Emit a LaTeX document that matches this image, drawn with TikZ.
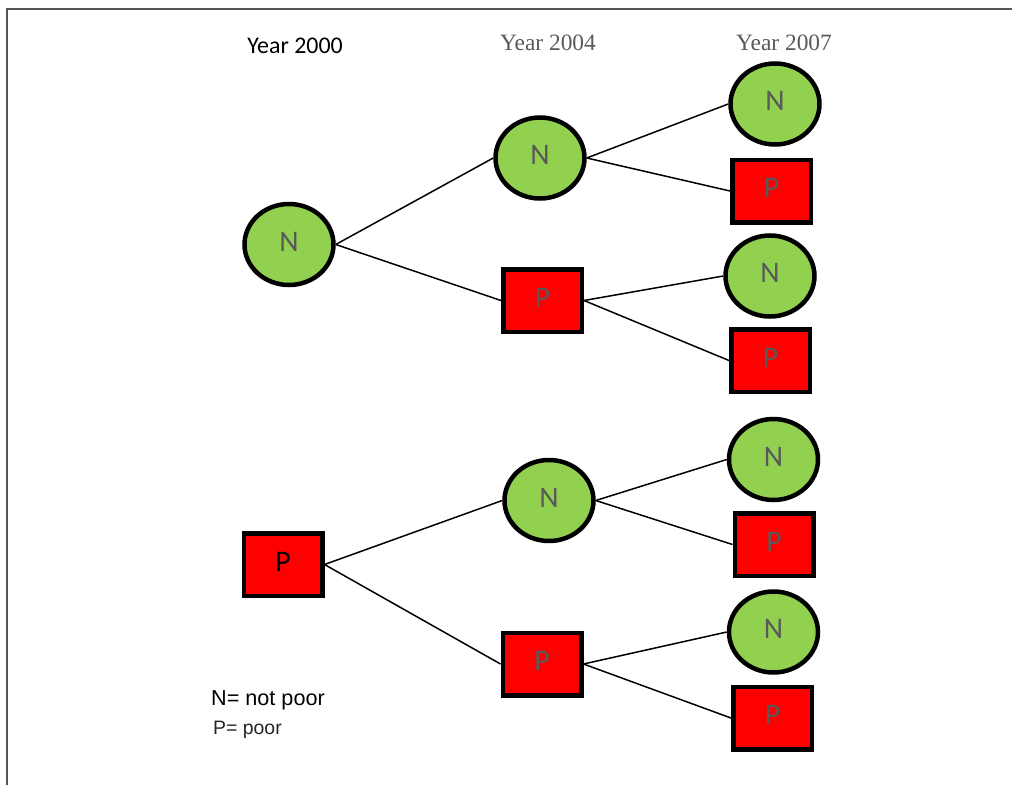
\documentclass[tikz,border=0pt]{standalone}
\usepackage{fontspec}
\setmainfont{Carlito}
\newfontfamily\serifyear{Liberation Serif}
\newfontfamily\legendfont{Liberation Sans}
\usetikzlibrary{shapes.geometric}
\definecolor{ngreen}{HTML}{92D050}
\definecolor{pred}{HTML}{FF0000}
\definecolor{labgray}{HTML}{595959}
\definecolor{framegray}{HTML}{555555}
\tikzset{
  nnode/.style={ellipse, draw=black, line width=4.5bp, fill=ngreen, minimum width=89bp, minimum height=81bp, inner sep=0pt, text=labgray, text depth=6bp, font=\fontsize{30}{30}\selectfont},
  pnode/.style={rectangle, draw=black, line width=4.5bp, fill=pred, minimum width=78.5bp, minimum height=62.5bp, inner sep=0pt, text=labgray, text depth=6bp, font=\fontsize{30}{30}\selectfont},
  link/.style={draw=black, line width=1.5bp},
  yearlab/.style={font=\serifyear\fontsize{23.5}{24}\selectfont, text=labgray, inner sep=0pt},
}
\begin{document}
\begin{tikzpicture}[x=1bp,y=-1bp]
\useasboundingbox (0,0) rectangle (1012,785);
\draw[framegray, line width=1.5bp] (7,785) -- (7,9) -- (1012,9);
% year labels
\node[font=\fontsize{24}{24}\selectfont, text=black, inner sep=0pt] (y0) at (295,46) {Year 2000};
\node[yearlab] (y4) at (548,43) {Year 2004};
\node[yearlab] (y7) at (784,43) {Year 2007};
% root nodes
\node[nnode] (rN) at (289,244.5) {N};
\node[pnode, text=black] (rP) at (283,564.5) {P};
% 2004
\node[nnode] (tN) at (540,158) {N};
\node[pnode] (tP) at (542.5,300.5) {P};
\node[nnode] (bN) at (549,500.5) {N};
\node[pnode] (bP) at (542,664) {P};
% 2007
\node[nnode] (aN) at (775,104) {N};
\node[pnode] (aP) at (771.5,191) {P};
\node[nnode] (cN) at (770,276) {N};
\node[pnode] (cP) at (770.5,360.5) {P};
\node[nnode] (dN) at (773.5,459.5) {N};
\node[pnode] (dP) at (774,544.5) {P};
\node[nnode] (eN) at (773.5,632) {N};
\node[pnode] (eP) at (772.5,718) {P};
% links
\draw[link] (rN.east) -- (tN.west);
\draw[link] (rN.east) -- (tP.west);
\draw[link] (rP.east) -- (bN.west);
\draw[link] (rP.east) -- (bP.west);
\draw[link] (tN.east) -- (aN.west);
\draw[link] (tN.east) -- (aP.west);
\draw[link] (tP.east) -- (cN.west);
\draw[link] (tP.east) -- (cP.west);
\draw[link] (bN.east) -- (dN.west);
\draw[link] (bN.east) -- (dP.west);
\draw[link] (bP.east) -- (eN.west);
\draw[link] (bP.east) -- (eP.west);
% legend
\node[anchor=west, font=\legendfont\fontsize{21.7}{22}\selectfont, inner sep=0pt] (legN) at (211,700) {N= not poor};
\node[anchor=west, font=\legendfont\fontsize{19.5}{20}\selectfont, inner sep=0pt, text=black!85] (legP) at (213,730) {P= poor};
\end{tikzpicture}
\end{document}
